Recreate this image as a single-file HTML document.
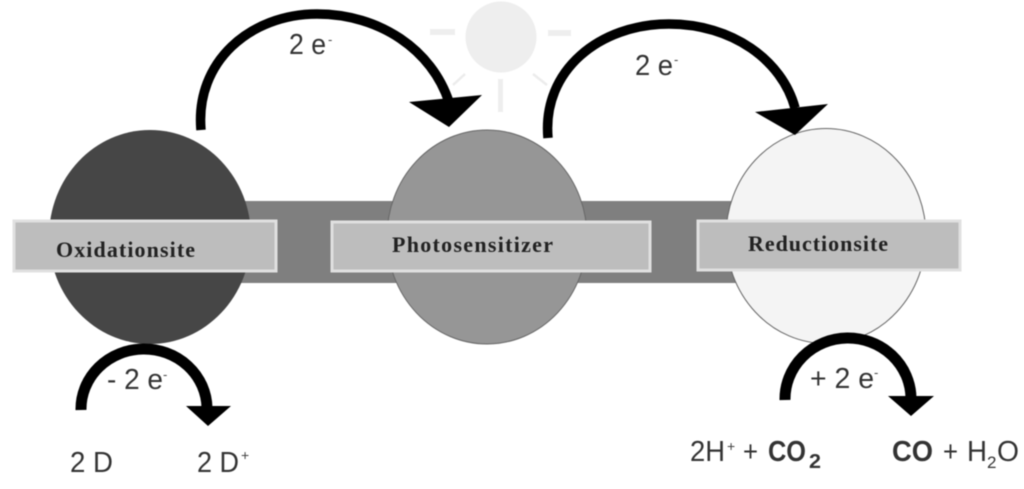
<!DOCTYPE html>
<html><head><meta charset="utf-8"><style>
html,body{margin:0;padding:0;background:#fff;width:1024px;height:489px;overflow:hidden}
svg{display:block;filter:blur(.6px)}
.s{font-family:"Liberation Sans",sans-serif;fill:#333;font-size:29px}
.t{font-family:"Liberation Sans",sans-serif;fill:#444;font-size:13px}
.b{font-family:"Liberation Serif",serif;font-weight:bold;fill:#222;font-size:22px}
.a{fill:none;stroke:#000;stroke-width:9.500}
.c{stroke-width:11}
</style></head><body>
<svg width="1024" height="489" viewBox="0 0 1024 489" xmlns="http://www.w3.org/2000/svg">
<rect width="1024" height="489" fill="#fff"/>
<g fill="#eee">
<circle cx="501" cy="37" r="35.500"/>
<rect x="430" y="29" width="25" height="6"/><rect x="548" y="30" width="23" height="6"/>
<rect x="498" y="79" width="5" height="33"/>
</g>
<path d="M465 74L453 85M533 74L547 85" stroke="#ececec" stroke-width="2.500" fill="none"/>
<rect x="240" y="201" width="500" height="82" fill="#7f7f7f"/>
<ellipse cx="150" cy="237" rx="101" ry="107" fill="#464646"/>
<ellipse cx="487" cy="237" rx="100" ry="107" fill="#969696" stroke="#666" stroke-width="1"/>
<ellipse cx="826" cy="236" rx="100" ry="107.500" fill="#f4f4f4" stroke="#666" stroke-width="1"/>
<g fill="#bdbdbd" stroke="#e0e0e0" stroke-width="3">
<rect x="14" y="221" width="262" height="50"/>
<rect x="332" y="222" width="318" height="49"/>
<rect x="698" y="221" width="262" height="49"/>
</g>
<path class="a" d="M201 130C195 62 250 14 317 14C380 14 432 50 449 102"/>
<path d="M409 102L482 95L449 127Z"/>
<path class="a" d="M548 138C542 70 600 24 669 24C732 24 782 60 795 108"/>
<path d="M755 112L828 104L795 135Z"/>
<path class="a c" d="M81 410A63 60 0 0 1 207 408"/>
<path d="M186 406L231 406L208 426Z"/>
<path class="a c" d="M785 400A63 61 0 0 1 911 398"/>
<path d="M888 396L934 396L911 416Z"/>
<text class="b" x="56" y="257" textLength="139" lengthAdjust="spacing">Oxidationsite</text>
<text class="b" x="392" y="252" textLength="161" lengthAdjust="spacing">Photosensitizer</text>
<text class="b" x="748" y="251" textLength="140" lengthAdjust="spacing">Reductionsite</text>
<text class="s" x="289" y="54" textLength="37" lengthAdjust="spacingAndGlyphs">2 e</text><text class="t" x="328" y="44">-</text>
<text class="s" x="635" y="75" textLength="38" lengthAdjust="spacingAndGlyphs">2 e</text><text class="t" x="674" y="64">-</text>
<text class="s" x="107" y="389" textLength="56" lengthAdjust="spacingAndGlyphs">- 2 e</text><text class="t" x="163" y="379">-</text>
<text class="s" x="810" y="388" textLength="64" lengthAdjust="spacingAndGlyphs">+ 2 e</text><text class="t" x="874" y="377">-</text>
<text class="s" x="70" y="472" textLength="43" lengthAdjust="spacingAndGlyphs">2 D</text>
<text class="s" x="197" y="472" textLength="42" lengthAdjust="spacingAndGlyphs">2 D</text><text class="t" x="241" y="460" style="font-size:14px">+</text>
<text class="s" x="690" y="461" textLength="35" lengthAdjust="spacingAndGlyphs">2H</text><text class="t" x="727" y="451" style="font-size:14px">+</text>
<text class="s" x="743" y="461" textLength="15" lengthAdjust="spacingAndGlyphs">+</text>
<text class="s" x="768" y="461" font-weight="bold" textLength="38" lengthAdjust="spacingAndGlyphs">CO</text>
<text class="s" x="809" y="468" font-weight="bold" style="font-size:20px" textLength="12" lengthAdjust="spacingAndGlyphs">2</text>
<text class="s" x="892" y="461" font-weight="bold" textLength="41" lengthAdjust="spacingAndGlyphs">CO</text>
<text class="s" x="943" y="461" textLength="15" lengthAdjust="spacingAndGlyphs">+</text>
<text class="s" x="967" y="461" textLength="20" lengthAdjust="spacingAndGlyphs">H</text>
<text class="s" x="987" y="468" style="font-size:17px">2</text>
<text class="s" x="997" y="461" textLength="22" lengthAdjust="spacingAndGlyphs">O</text>
</svg>
</body></html>
